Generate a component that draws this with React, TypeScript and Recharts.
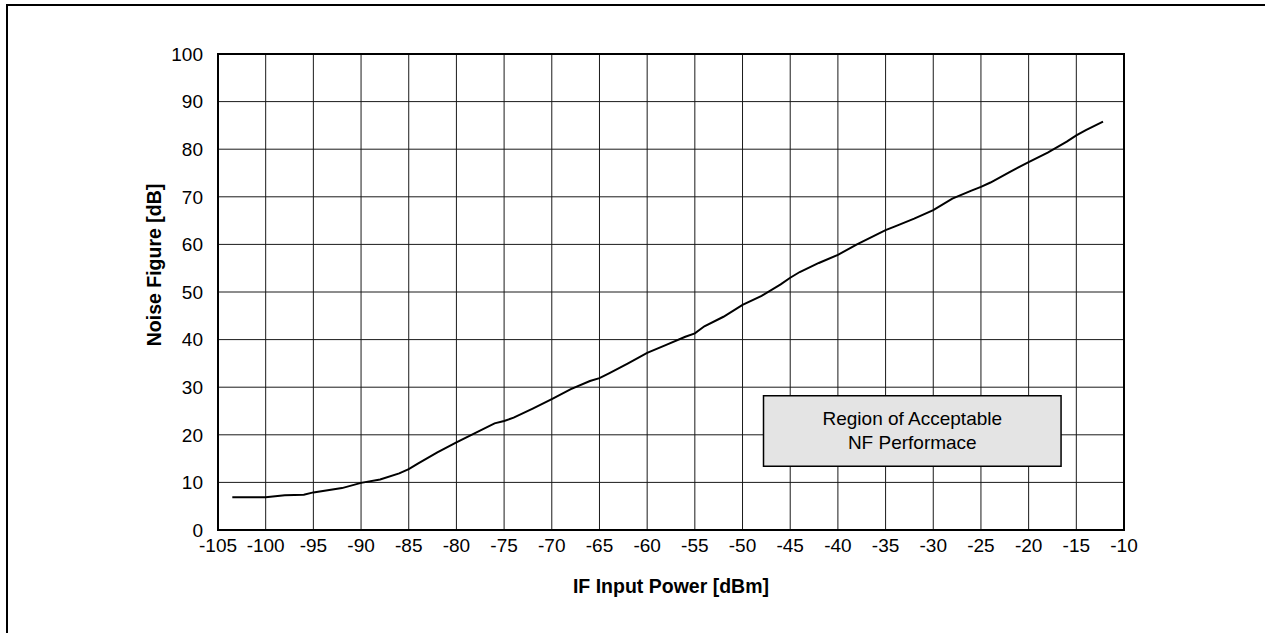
import React from 'react';
import { LineChart, Line, XAxis, YAxis, CartesianGrid, ReferenceArea, Label } from 'recharts';

// IF input power (dBm)
const inputPower = [
  -103.5, -100, -98, -96, -95, -92, -90, -88, -86, -85, -84, -82, -80, -78, -76, -75, -74, -72, -70, -68,
  -66, -65, -64, -62, -60, -58, -56, -55, -54, -52, -50, -48, -46, -45, -44, -42, -40, -38, -36, -35,
  -34, -32, -30, -28, -26, -25, -24, -22, -20, -18, -16, -15, -14, -12.2,
];
// Noise figure (dB)
const noiseFigure = [
  6.9, 6.9, 7.3, 7.4, 7.9, 8.8, 9.9, 10.6, 11.9, 12.8, 14.0, 16.3, 18.4, 20.4, 22.4, 22.9, 23.6, 25.5, 27.5, 29.6,
  31.3, 31.9, 32.9, 35.0, 37.2, 38.9, 40.6, 41.3, 42.8, 44.8, 47.3, 49.2, 51.6, 53.0, 54.2, 56.1, 57.8, 60.0, 62.0, 63.0,
  63.8, 65.4, 67.2, 69.6, 71.3, 72.1, 73.0, 75.2, 77.3, 79.3, 81.6, 82.9, 84.0, 85.8,
];

const xTicks = [-105, -100, -95, -90, -85, -80, -75, -70, -65, -60, -55, -50, -45, -40, -35, -30, -25, -20, -15, -10];
const yTicks = [0, 10, 20, 30, 40, 50, 60, 70, 80, 90, 100];

const xTitle = 'IF Input Power [dBm]';
const yTitle = 'Noise Figure [dB]';
const noteLines = ['Region of Acceptable', 'NF Performace'];

// annotation box extent (data units)
const noteX1 = -47.8;
const noteX2 = -16.6;
const noteY1 = 13.4;
const noteY2 = 28.2;

const data = inputPower.map((x, i) => ({ x, nf: noiseFigure[i] }));

const FONT = '"Liberation Sans", Arial, Helvetica, sans-serif';

const NoteLabel = (props: any) => {
  const vb = props.viewBox || {};
  const cx = vb.x + vb.width / 2;
  const cy = vb.y + vb.height / 2;
  return (
    <g>
      <text x={cx} y={cy - 5.5} textAnchor="middle" fontFamily={FONT} fontSize={19} fill="#000">
        {noteLines[0]}
      </text>
      <text x={cx} y={cy + 18} textAnchor="middle" fontFamily={FONT} fontSize={19} fill="#000">
        {noteLines[1]}
      </text>
    </g>
  );
};

const XTitle = (props: any) => {
  const vb = props.viewBox || {};
  return (
    <text x={vb.x + vb.width / 2} y={593} textAnchor="middle" fontFamily={FONT} fontSize={19.5} fontWeight="bold" fill="#000">
      {xTitle}
    </text>
  );
};

const YTitle = () => (
  <text
    x={161}
    y={265}
    transform="rotate(-90, 161, 265)"
    textAnchor="middle"
    fontFamily={FONT}
    fontSize={19.5}
    fontWeight="bold"
    fill="#000"
  >
    {yTitle}
  </text>
);

export default function App() {
  return (
    <div style={{ position: 'absolute', left: 0, top: 0, width: 1265, height: 633, background: '#fff', overflow: 'hidden' }}>
      <div
        style={{
          position: 'absolute',
          left: 6,
          top: 4,
          width: 1400,
          height: 800,
          borderLeft: '2px solid #000',
          borderTop: '2px solid #000',
        }}
      />
      <div style={{ position: 'absolute', left: 0, top: 0 }}>
        <LineChart width={1265} height={633} data={data} margin={{ top: 54, right: 141, bottom: 43, left: 158 }}>
          <CartesianGrid stroke="#1a1a1a" strokeWidth={1} vertical horizontal />
          <XAxis
            dataKey="x"
            type="number"
            domain={[-105, -10]}
            ticks={xTicks}
            allowDataOverflow
            axisLine={false}
            tickLine={false}
            tickSize={0}
            tickMargin={9}
            height={60}
            interval={0}
            tick={{ fill: '#000', fontSize: 19, fontFamily: FONT }}
          >
            <Label content={<XTitle />} />
          </XAxis>
          <YAxis
            type="number"
            domain={[0, 100]}
            ticks={yTicks}
            allowDataOverflow
            axisLine={false}
            tickLine={false}
            tickSize={0}
            tickMargin={15}
            width={60}
            interval={0}
            tick={{ fill: '#000', fontSize: 19, fontFamily: FONT }}
          >
            <Label content={<YTitle />} />
          </YAxis>
          <ReferenceArea
            x1={noteX1}
            x2={noteX2}
            y1={noteY1}
            y2={noteY2}
            fill="#e4e4e4"
            fillOpacity={1}
            stroke="#000"
            strokeWidth={1.5}
            label={<NoteLabel />}
          />
          <ReferenceArea x1={-105} x2={-10} y1={0} y2={100} fill="none" stroke="#000" strokeWidth={2} />
          <Line
            type="linear"
            dataKey="nf"
            stroke="#000"
            strokeWidth={2}
            dot={false}
            activeDot={false}
            isAnimationActive={false}
          />
        </LineChart>
      </div>
    </div>
  );
}
